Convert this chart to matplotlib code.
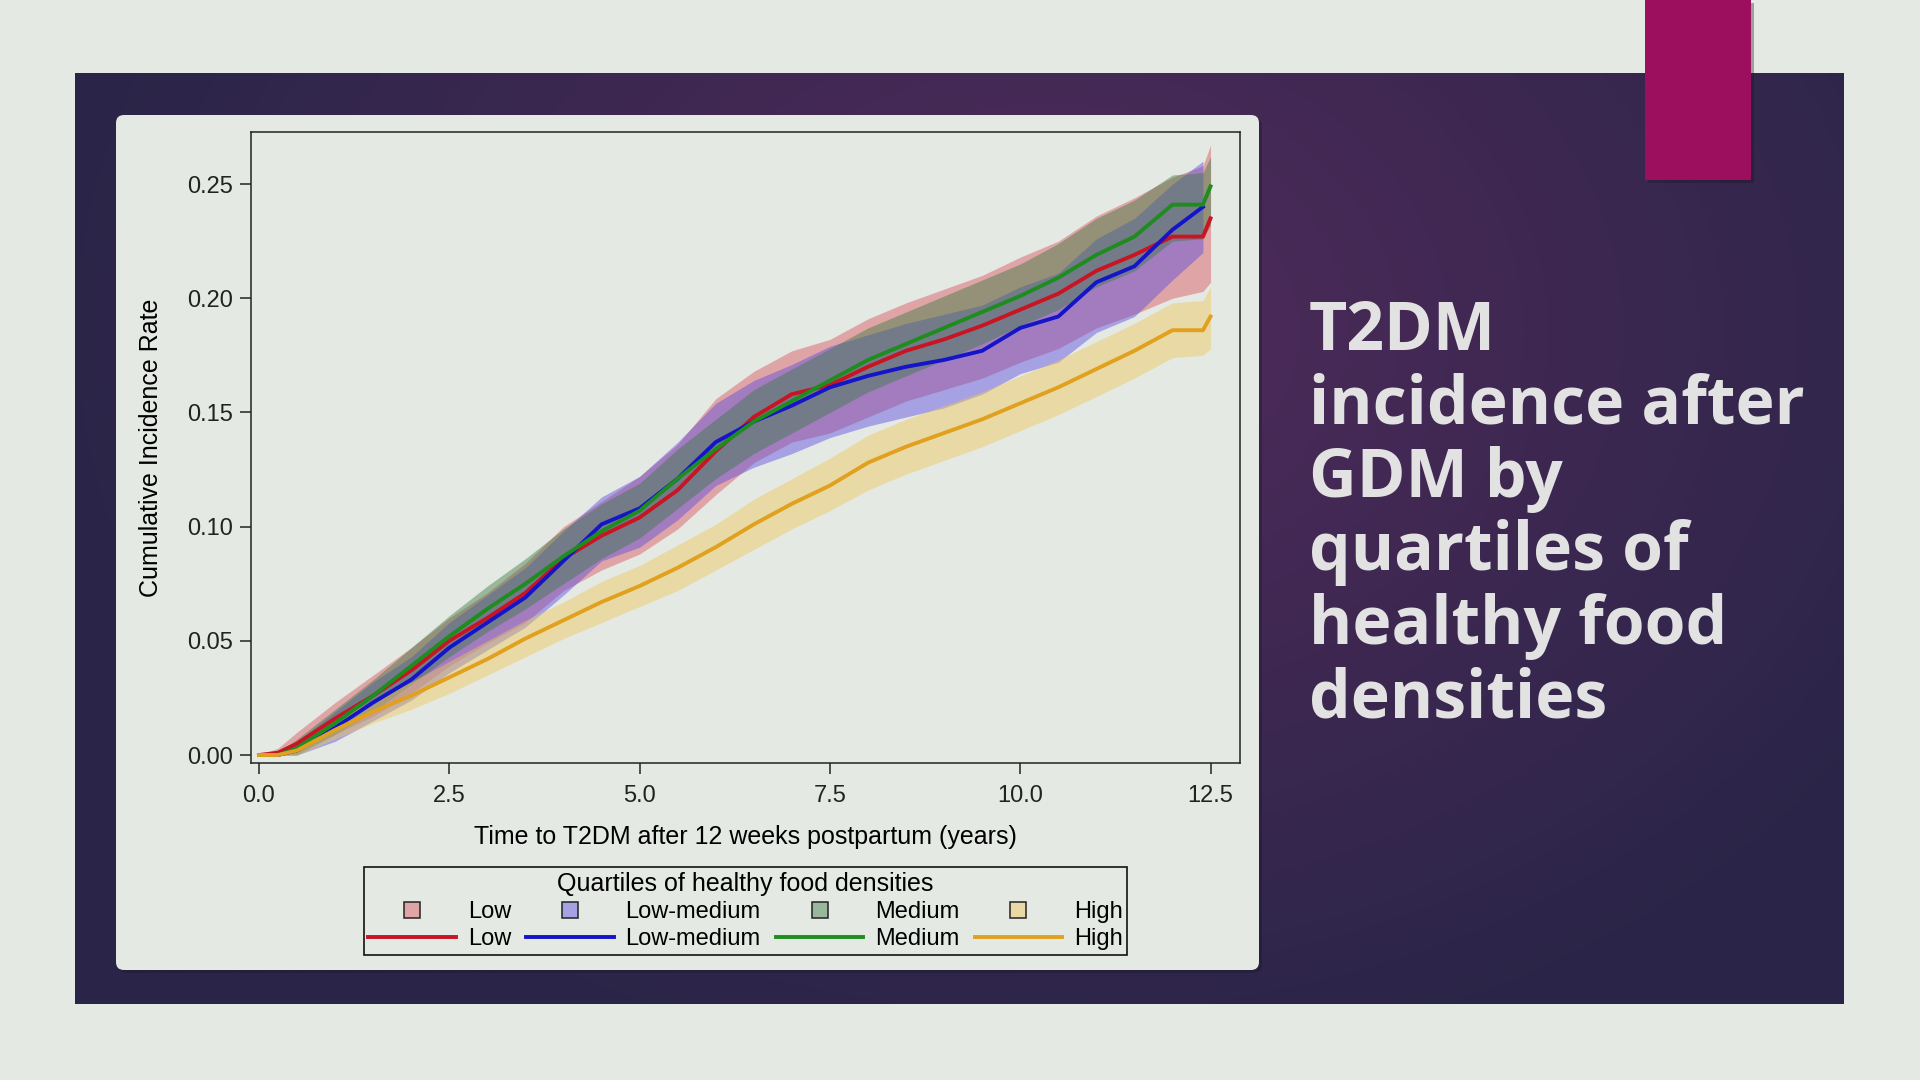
import numpy as np
import matplotlib
matplotlib.use('Agg')
import matplotlib.pyplot as plt
from matplotlib.patches import FancyBboxPatch, Rectangle
from matplotlib.lines import Line2D
from matplotlib.ticker import FormatStrFormatter

plt.rcParams['font.family'] = ['Liberation Sans', 'DejaVu Sans']

nan = np.nan

# time grid (years) and cumulative incidence
years = [0, 0.25, 0.5, 1, 1.5, 2, 2.5, 3, 3.5, 4, 4.5, 5, 5.5, 6, 6.5, 7,
         7.5, 8, 8.5, 9, 9.5, 10, 10.5, 11, 11.5, 12, 12.4, 12.5]

low = [0, 0.001, 0.005, 0.016, 0.026, 0.037, 0.050, 0.060, 0.071, 0.086, 0.096, 0.104, 0.116, 0.133,
       0.148, 0.158, 0.162, 0.170, 0.177, 0.182, 0.188, 0.195, 0.202, 0.212, 0.219, 0.227, 0.227, 0.235]
low_lo = [0, 0, 0.001, 0.009, 0.017, 0.027, 0.039, 0.049, 0.058, 0.072, 0.081, 0.088, 0.099, 0.114,
          0.128, 0.137, 0.141, 0.148, 0.155, 0.160, 0.165, 0.172, 0.178, 0.187, 0.193, 0.200, 0.203, 0.207]
low_hi = [0, 0.003, 0.010, 0.023, 0.035, 0.047, 0.060, 0.071, 0.084, 0.100, 0.111, 0.122, 0.136, 0.156,
          0.168, 0.177, 0.182, 0.191, 0.198, 0.204, 0.210, 0.218, 0.225, 0.236, 0.244, 0.253, 0.258, 0.267]

lowmed = [0, 0, 0.002, 0.012, 0.023, 0.033, 0.047, 0.058, 0.069, 0.085, 0.101, 0.108, 0.121, 0.137,
          0.146, 0.153, 0.161, 0.166, 0.170, 0.173, 0.177, 0.187, 0.192, 0.207, 0.214, 0.230, 0.240, nan]
lowmed_lo = [0, 0, 0, 0.006, 0.015, 0.024, 0.036, 0.046, 0.056, 0.070, 0.085, 0.091, 0.103, 0.118,
             0.126, 0.132, 0.139, 0.144, 0.148, 0.152, 0.158, 0.167, 0.172, 0.185, 0.192, 0.208, 0.220, nan]
lowmed_hi = [0, 0.001, 0.006, 0.019, 0.032, 0.043, 0.058, 0.070, 0.082, 0.098, 0.113, 0.122, 0.137, 0.154,
             0.164, 0.171, 0.179, 0.184, 0.189, 0.193, 0.197, 0.205, 0.211, 0.226, 0.235, 0.250, 0.260, nan]

med = [0, 0, 0.003, 0.014, 0.026, 0.039, 0.052, 0.064, 0.075, 0.087, 0.098, 0.107, 0.121, 0.134,
       0.146, 0.155, 0.164, 0.173, 0.180, 0.187, 0.194, 0.201, 0.209, 0.219, 0.227, 0.241, 0.241, 0.249]
med_lo = [0, 0, 0, 0.009, 0.019, 0.031, 0.043, 0.054, 0.064, 0.075, 0.086, 0.095, 0.108, 0.121,
          0.132, 0.141, 0.150, 0.159, 0.166, 0.173, 0.180, 0.188, 0.195, 0.205, 0.212, 0.225, 0.226, 0.232]
med_hi = [0, 0.001, 0.007, 0.020, 0.033, 0.047, 0.061, 0.074, 0.086, 0.099, 0.110, 0.119, 0.134, 0.147,
          0.160, 0.169, 0.178, 0.187, 0.194, 0.201, 0.208, 0.215, 0.224, 0.235, 0.243, 0.254, 0.255, 0.262]

high = [0, 0, 0.002, 0.011, 0.019, 0.026, 0.034, 0.042, 0.051, 0.059, 0.067, 0.074, 0.082, 0.091,
        0.101, 0.110, 0.118, 0.128, 0.135, 0.141, 0.147, 0.154, 0.161, 0.169, 0.177, 0.186, 0.186, 0.192]
high_lo = [0, 0, 0, 0.007, 0.014, 0.020, 0.027, 0.035, 0.043, 0.051, 0.058, 0.065, 0.072, 0.081,
           0.090, 0.099, 0.107, 0.116, 0.123, 0.129, 0.135, 0.142, 0.149, 0.157, 0.165, 0.174, 0.175, 0.178]
high_hi = [0, 0.001, 0.004, 0.015, 0.024, 0.032, 0.041, 0.050, 0.059, 0.067, 0.076, 0.083, 0.092, 0.101,
           0.112, 0.121, 0.130, 0.140, 0.147, 0.153, 0.159, 0.166, 0.173, 0.181, 0.189, 0.198, 0.199, 0.205]

groups = ['Low', 'Low-medium', 'Medium', 'High']
curves = [low, lowmed, med, high]
lowers = [low_lo, lowmed_lo, med_lo, high_lo]
uppers = [low_hi, lowmed_hi, med_hi, high_hi]
line_colors = ['#c81423', '#1414c8', '#1e8c1e', '#e1a01e']
band_colors = ['#d9545c', '#5a4ae0', '#3c7a44', '#f0c85a']
band_alpha = 0.45

title_lines = ['T2DM', 'incidence after', 'GDM by', 'quartiles of', 'healthy food', 'densities']

W, H = 1920, 1080
BG = '#e4e9e4'

fig = plt.figure(figsize=(19.2, 10.8), dpi=100)
fig.patch.set_facecolor(BG)

# slide background: dark purple panel, magenta tab, light card
bg = fig.add_axes([0, 0, 1, 1])
bg.axis('off')
gx, gy = np.meshgrid(np.linspace(75, 1844, 400), np.linspace(73, 1004, 220))
d = np.clip(np.sqrt(((gx - 1050) / 1000) ** 2 + ((gy - 330) / 760) ** 2), 0, 1)[..., None]
inner = np.array([82, 43, 92]) / 255
outer = np.array([42, 37, 72]) / 255
img = inner * (1 - d) + outer * d
bg.imshow(img, extent=(75, 1844, 1004, 73), aspect='auto', interpolation='bilinear')
bg.add_patch(Rectangle((1648, 3), 106, 180, fc='#1c1424', ec='none', alpha=0.35))
bg.add_patch(Rectangle((1645, 0), 106, 180, fc='#9b0f5e', ec='none'))
bg.add_patch(FancyBboxPatch((127, 126), 1127, 839, boxstyle='round,pad=8', fc='#1a1428', ec='none', alpha=0.35))
bg.add_patch(FancyBboxPatch((124, 123), 1127, 839, boxstyle='round,pad=8', fc=BG, ec='none'))
bg.set_xlim(0, W)
bg.set_ylim(H, 0)

for i, line in enumerate(title_lines):
    fig.text(1309 / W, 1 - (350 + 73.4 * i) / H, line, color='#e2e2e2', fontsize=47.5,
             fontfamily='Open Sans', fontweight='bold', va='baseline', ha='left')

# chart
ax = fig.add_axes([251 / W, 1 - 763 / H, 989 / W, 631 / H])
ax.set_facecolor(BG)

for lo, hi, c in zip(lowers, uppers, band_colors):
    ax.fill_between(years, lo, hi, color=c, alpha=band_alpha, lw=0)
for y, c in zip(curves, line_colors):
    ax.plot(years, y, color=c, lw=2.8)

ax.set_xlim(-0.105, 12.887)
ax.set_ylim(-0.0035, 0.2728)
ax.set_xticks([0, 2.5, 5, 7.5, 10, 12.5])
ax.set_yticks([0, 0.05, 0.10, 0.15, 0.20, 0.25])
ax.xaxis.set_major_formatter(FormatStrFormatter('%.1f'))
ax.yaxis.set_major_formatter(FormatStrFormatter('%.2f'))
ax.tick_params(direction='out', length=8, width=1.1, labelsize=17, colors='#222222')
ax.tick_params(axis='x', pad=7.5)
ax.tick_params(axis='y', pad=5)
for s in ax.spines.values():
    s.set_linewidth(1.1)
    s.set_color('#222222')
ax.set_xlabel('Time to T2DM after 12 weeks postpartum (years)', fontsize=18, labelpad=13)
ax.set_ylabel('Cumulative Incidence Rate', fontsize=18, labelpad=17)

handles = []
labels = []
for g, lc, bc in zip(groups, line_colors, band_colors):
    rgba = matplotlib.colors.to_rgba(bc, band_alpha)
    handles.append(Line2D([], [], marker='s', ls='none', ms=12, mfc=rgba, mec='#222222', mew=1.1))
    labels.append(g)
    handles.append(Line2D([], [], color=lc, lw=2.8))
    labels.append(g)

leg = fig.legend(handles, labels, ncol=4, loc='center',
                 bbox_to_anchor=(745.5 / W, 1 - 911 / H), bbox_transform=fig.transFigure,
                 title='Quartiles of healthy food densities', title_fontsize=18, fontsize=17,
                 frameon=True, fancybox=False, framealpha=1, facecolor=BG, edgecolor='#111111',
                 handlelength=3.7, handletextpad=0.5, columnspacing=0.65, labelspacing=0.22,
                 borderpad=0.2)
leg.get_frame().set_linewidth(1.2)

fig.savefig('out.png', dpi=100, facecolor=BG)
